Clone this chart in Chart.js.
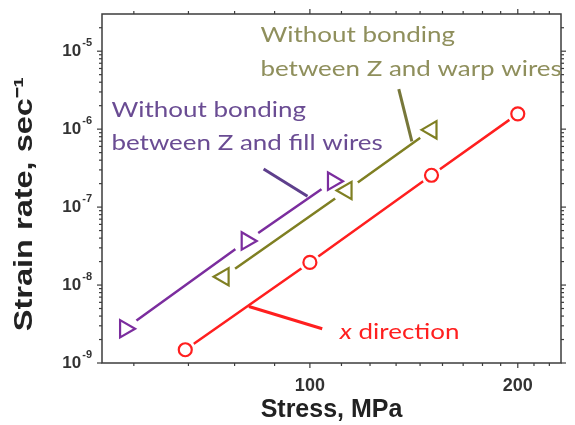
<!DOCTYPE html>
<html>
<head>
<meta charset="utf-8">
<script src="https://cdn.jsdelivr.net/npm/chart.js@4.4.1/dist/chart.umd.min.js"></script>
<style>
  html, body { margin: 0; padding: 0; background: #fff; }
  #wrap { width: 575px; height: 425px; }
</style>
</head>
<body>
<div id="wrap"><canvas id="c"></canvas></div>
<script>
/* ─── data ───────────────────────────────────────────── */
const xDirStress  = [66, 100, 150, 200];
const xDirRate    = [1.48e-9, 1.95e-8, 2.56e-7, 1.57e-6];
const fillStress  = [54, 81, 108];
const fillRate    = [2.75e-9, 3.68e-8, 2.15e-7];
const warpStress  = [75, 113, 150];
const warpRate    = [1.28e-8, 1.63e-7, 9.8e-7];

const xMajorTicks = [100, 200];
const xMinorTicks = [55.6, 66.7, 77.8, 88.9, 111.1, 122.2, 133.3, 144.4, 155.6, 166.7, 177.8, 188.9, 211.1, 222.2];
const yMajorTicks = [1e-9, 1e-8, 1e-7, 1e-6, 1e-5];
const yExponents  = ['-9', '-8', '-7', '-6', '-5'];
const yMinorSteps = [2, 3, 4, 5, 6, 7, 8, 9];

const X_MIN = 50, X_MAX = 231;
const Y_MIN = 1e-9, Y_MAX = 3e-5;

const RED = '#ff1f1f';
const PURPLE = '#7b2d9e';
const OLIVE = '#7f7f22';

// annotation text + leader lines, anchored in data space
const notes = [
  { color: '#6a4c93', lines: ['Without bonding', 'between Z and fill wires'], x: 51.6, y: [1.78e-6, 6.6e-7] },
  { color: '#8f8f5c', lines: ['Without bonding', 'between Z and warp wires'], x: 84.8, y: [1.61e-5, 6.0e-6] },
];
const leaders = [
  { color: '#5e3f8c', from: [85.7, 3.08e-7], to: [99.2, 1.38e-7] },
  { color: '#77773a', from: [134.5, 3.27e-6], to: [140.5, 6.95e-7] },
  { color: RED,       from: [81.6, 5.3e-9],   to: [104.2, 2.75e-9] },
];

const TEXT_STRETCH = 1.18; // the figure's labels are drawn a bit wide

const pts = (xs, ys) => xs.map((v, i) => ({ x: v, y: ys[i] }));

function seriesSets(xs, ys, color, style, radius, rotation) {
  const data = pts(xs, ys);
  return [
    { // line + white halo that opens a gap around each marker
      data, showLine: true, borderColor: color, borderWidth: 2.5,
      pointStyle: 'circle', pointRadius: radius + 4, pointHoverRadius: radius + 4,
      pointBackgroundColor: '#fff', pointBorderWidth: 0, order: 2,
    },
    {
      data, showLine: false,
      pointStyle: style, rotation, pointRadius: radius, pointHoverRadius: radius,
      pointBorderColor: color, pointBackgroundColor: '#fff', pointBorderWidth: 2.2, order: 1,
    },
  ];
}

function wideText(ctx, text, px, py, stretch = TEXT_STRETCH) {
  ctx.save();
  ctx.translate(px, py);
  ctx.scale(stretch, 1);
  ctx.fillText(text, 0, 0);
  ctx.restore();
  return ctx.measureText(text).width * stretch;
}

const axisDecor = {
  id: 'axisDecor',
  afterDraw(chart) {
    const { ctx, chartArea: a, scales: { x, y } } = chart;
    ctx.save();

    ctx.strokeStyle = '#3c3c3c';
    ctx.lineWidth = 1.5;
    ctx.strokeRect(a.left, a.top, a.right - a.left, a.bottom - a.top);

    const line = (x1, y1, x2, y2) => { ctx.beginPath(); ctx.moveTo(x1, y1); ctx.lineTo(x2, y2); ctx.stroke(); };
    ctx.lineWidth = 1.2;

    // x ticks, bottom and top, outward
    xMajorTicks.forEach(v => { const px = x.getPixelForValue(v); line(px, a.bottom, px, a.bottom + 5); line(px, a.top, px, a.top - 5); });
    xMinorTicks.forEach(v => { const px = x.getPixelForValue(v); line(px, a.bottom, px, a.bottom + 3); line(px, a.top, px, a.top - 3); });

    // y ticks, left and right, outward
    yMajorTicks.forEach(v => {
      const py = y.getPixelForValue(v);
      line(a.left - 5, py, a.left, py); line(a.right, py, a.right + 5, py);
      yMinorSteps.forEach(m => {
        const mv = v * m;
        if (mv > Y_MAX) return;
        const my = y.getPixelForValue(mv);
        line(a.left - 3, my, a.left, my); line(a.right, my, a.right + 3, my);
      });
    });

    // tick labels
    ctx.fillStyle = '#333';
    ctx.textBaseline = 'middle';
    ctx.textAlign = 'center';
    ctx.font = 'bold 18px "Liberation Sans", Arial, sans-serif';
    xMajorTicks.forEach(v => ctx.fillText(String(v), x.getPixelForValue(v), a.bottom + 23));

    yMajorTicks.forEach((v, i) => {
      const py = y.getPixelForValue(v);
      ctx.textAlign = 'right';
      ctx.font = 'bold 11px "Liberation Sans", Arial, sans-serif';
      const ex = yExponents[i];
      ctx.fillText(ex, a.left - 10, py - 8);
      const ew = ctx.measureText(ex).width;
      ctx.font = 'bold 17px "Liberation Sans", Arial, sans-serif';
      ctx.fillText('10', a.left - 11 - ew, py);
    });

    // axis titles
    ctx.fillStyle = '#222';
    ctx.textAlign = 'center';
    ctx.font = 'bold 25px "Liberation Sans", Arial, sans-serif';
    ctx.fillText('Stress, MPa', (a.left + a.right) / 2, 410);

    ctx.save();
    ctx.translate(25, 204);
    ctx.rotate(-Math.PI / 2);
    wideText(ctx, 'Strain rate, sec\u207B\u00B9', 0, 0, 1.3);
    ctx.restore();

    // leader lines
    ctx.lineWidth = 3;
    leaders.forEach(l => {
      ctx.strokeStyle = l.color;
      line(x.getPixelForValue(l.from[0]), y.getPixelForValue(l.from[1]),
           x.getPixelForValue(l.to[0]), y.getPixelForValue(l.to[1]));
    });

    // annotation text
    ctx.textAlign = 'left';
    ctx.font = '22px Lato, "Open Sans", sans-serif';
    notes.forEach(n => {
      ctx.fillStyle = n.color;
      n.lines.forEach((t, i) => wideText(ctx, t, x.getPixelForValue(n.x), y.getPixelForValue(n.y[i])));
    });

    // "x direction" with italic x
    let tx = x.getPixelForValue(110.5);
    const ty = y.getPixelForValue(2.5e-9);
    ctx.fillStyle = RED;
    ctx.font = 'italic 22px Lato, "Open Sans", sans-serif';
    tx += wideText(ctx, 'x', tx, ty);
    ctx.font = '22px Lato, "Open Sans", sans-serif';
    tx += ctx.measureText(' ').width * TEXT_STRETCH;
    wideText(ctx, 'direction', tx, ty);

    ctx.restore();
  },
};

new Chart(document.getElementById('c'), {
  type: 'scatter',
  data: {
    datasets: [
      ...seriesSets(xDirStress, xDirRate, RED, 'circle', 6.5, 0),
      ...seriesSets(fillStress, fillRate, PURPLE, 'triangle', 10, 90),
      ...seriesSets(warpStress, warpRate, OLIVE, 'triangle', 10, -90),
    ],
  },
  options: {
    responsive: true,
    maintainAspectRatio: false,
    animation: false,
    layout: { padding: { left: 102, top: 12, right: 2, bottom: 62 } },
    plugins: { legend: { display: false }, tooltip: { enabled: false } },
    scales: {
      x: { type: 'logarithmic', min: X_MIN, max: X_MAX, display: false },
      y: { type: 'logarithmic', min: Y_MIN, max: Y_MAX, display: false },
    },
  },
  plugins: [axisDecor],
});
</script>
</body>
</html>
